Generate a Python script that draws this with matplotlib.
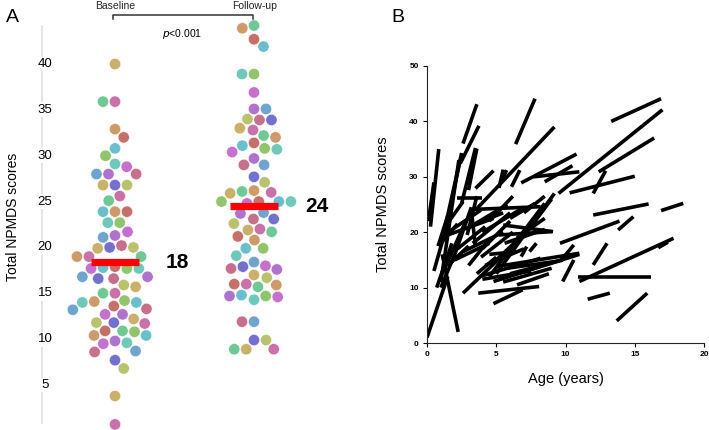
import numpy as np
import matplotlib
matplotlib.use("Agg")
import matplotlib.pyplot as plt

plt.rcParams['font.family'] = ['Liberation Sans', 'DejaVu Sans']

# panel A: NPMDS scores, one dot per patient
baseline = [40.0, 35.9, 35.9, 32.9, 32.0, 30.8, 30.0, 29.1, 28.8, 28.0, 28.0, 28.0,
            26.8, 26.8, 26.8, 25.6, 25.1, 23.9, 23.9, 23.9, 22.7, 22.7, 21.7, 21.3,
            21.1, 20.2, 20.0, 20.0, 19.9, 19.0, 19.0, 19.0, 17.9, 17.8, 17.7, 17.7,
            17.7, 16.8, 16.8, 16.6, 16.6, 15.9, 15.7, 15.0, 15.0, 14.1, 13.6, 14.0,
            14.2, 14.0, 12.7, 12.7, 13.2, 13.3, 11.8, 11.8, 12.2, 11.7, 10.9, 10.4,
            10.9, 10.4, 10.8, 9.6, 9.5, 9.8, 8.7, 8.6, 7.7, 6.8, 3.8, 0.7]
followup = [44.2, 43.9, 42.7, 41.9, 38.9, 38.9, 36.9, 35.1, 35.1, 33.9, 33.9, 34.0,
            33.0, 32.8, 32.2, 32.0, 31.4, 31.1, 30.8, 30.7, 30.4, 29.7, 29.0, 29.0,
            27.7, 27.1, 25.9, 26.0, 26.1, 26.2, 25.0, 25.0, 25.0, 25.0, 24.8, 23.7,
            23.8, 23.1, 23.1, 22.6, 21.9, 22.0, 21.7, 20.8, 21.2, 19.9, 19.9, 19.1,
            18.0, 17.6, 18.4, 17.7, 17.9, 16.7, 17.0, 16.0, 15.7, 15.9, 16.0, 14.8,
            14.7, 14.3, 14.6, 14.7, 11.9, 11.9, 9.9, 9.9, 8.9, 8.9, 8.9]
group_names = ["Baseline", "Follow-up"]
median_pos = [18.4, 24.5]
median_labels = ["18", "24"]
p_text = "<0.001"
yticks_a = [5, 10, 15, 20, 25, 30, 35, 40]

# panel B: each patient as a segment (age, score) at baseline -> follow-up
segments = [
    (13.3, 40.0, 16.9, 44.1), (9.5, 27.0, 17.0, 42.1), (12.4, 30.9, 16.4, 37.0),
    (10.3, 27.1, 15.0, 30.1), (12.0, 27.0, 12.9, 31.1), (6.4, 35.9, 7.8, 44.1),
    (3.5, 24.0, 9.2, 39.0), (6.8, 28.9, 10.8, 34.1), (7.7, 30.0, 11.0, 30.9),
    (8.5, 29.1, 10.5, 32.0), (2.6, 36.0, 3.6, 43.1), (2.4, 32.4, 3.75, 39.2),
    (3.0, 27.6, 3.6, 35.1), (3.5, 27.9, 4.8, 31.1), (0.25, 21.0, 0.85, 35.0),
    (0.1, 22.0, 0.5, 29.0), (1.1, 18.6, 2.5, 34.3), (1.3, 19.8, 2.4, 33.1),
    (2.5, 25.2, 3.5, 35.2), (5.2, 28.0, 5.5, 31.3), (5.4, 29.4, 5.75, 31.2),
    (6.1, 28.2, 6.7, 31.2), (2.2, 26.1, 4.0, 26.1), (3.2, 24.1, 8.2, 24.6),
    (3.2, 24.0, 3.5, 17.4), (1.4, 19.8, 3.9, 24.0), (5.2, 19.5, 9.0, 20.1),
    (4.5, 12.0, 8.5, 25.2), (5.0, 12.5, 9.2, 27.0), (3.7, 9.0, 8.1, 10.2),
    (4.8, 7.1, 6.9, 9.6), (9.6, 18.0, 13.9, 22.0), (13.8, 20.4, 14.9, 22.8),
    (11.0, 11.1, 17.8, 18.9), (10.9, 12.0, 16.2, 12.0), (12.0, 14.1, 13.0, 18.0),
    (9.8, 11.1, 10.6, 15.0), (11.6, 7.9, 13.2, 9.0), (13.7, 4.0, 15.9, 9.0),
    (16.9, 23.9, 18.5, 25.2), (12.0, 23.1, 16.0, 25.1), (16.7, 17.2, 17.4, 18.2),
    (5.0, 13.8, 11.0, 16.2), (7.4, 16.5, 7.9, 18.0), (6.8, 15.6, 7.2, 17.4),
    (9.6, 14.7, 10.6, 17.7), (5.5, 21.3, 9.1, 20.1), (3.8, 12.0, 8.2, 15.3),
    (4.8, 11.1, 11.0, 16.0), (2.6, 9.0, 5.5, 15.9), (0.0, 1.0, 1.5, 12.0),
    (2.25, 2.0, 1.1, 16.0), (0.7, 10.0, 1.8, 18.0), (0.5, 13.0, 1.3, 20.0),
    (1.0, 10.0, 2.0, 16.0), (1.2, 13.0, 2.8, 22.0), (1.5, 14.0, 3.0, 17.5),
    (2.0, 15.0, 4.5, 18.0), (2.6, 16.5, 5.5, 20.0), (1.0, 18.0, 2.2, 21.5),
    (1.5, 19.5, 4.8, 22.5), (2.8, 20.5, 5.8, 25.0), (3.9, 15.5, 6.2, 20.0),
    (4.2, 14.0, 7.0, 17.0), (5.5, 11.0, 9.0, 13.5), (6.0, 12.5, 9.8, 15.0),
    (7.5, 21.0, 9.0, 26.0), (6.0, 22.5, 7.8, 25.2), (4.0, 17.0, 6.0, 22.0),
    (4.5, 22.0, 6.2, 26.5), (3.0, 14.0, 4.6, 19.0), (3.6, 12.5, 5.0, 15.5),
    (5.6, 18.0, 8.5, 20.5), (4.5, 16.0, 6.5, 16.5), (1.0, 11.0, 2.3, 33.0),
    (0.8, 17.5, 1.5, 23.0), (1.8, 14.5, 3.2, 24.5), (2.2, 17.0, 4.2, 21.0),
    (3.3, 18.0, 6.0, 23.5), (4.0, 20.0, 7.0, 24.5), (5.0, 15.0, 8.0, 22.0),
    (5.8, 13.5, 9.5, 14.8), (4.0, 11.5, 7.5, 13.0), (6.5, 10.5, 8.8, 12.5),
    (3.5, 21.5, 5.5, 23.5), (6.5, 19.0, 8.5, 22.5), (2.9, 19.5, 3.6, 26.5),
    (7.0, 23.5, 8.5, 26.5), (1.6, 22.0, 2.6, 25.5),
]

dot_colors = ['#c4a95a', '#c8905a', '#84bf5c', '#a864c8', '#6462c8', '#c462a0',
              '#c0605a', '#5ec4b4', '#5e9ac8', '#b4bc5e', '#5ec48a', '#5ab8c8',
              '#c060c8', '#c06080']


def swarm(vals_px, d):
    """x offsets (pixels) so that no two dots of diameter d overlap"""
    order = np.argsort(-np.asarray(vals_px))
    xs = np.zeros(len(vals_px))
    placed = []
    flip = 1
    for i in order:
        y = vals_px[i]
        near = [(px, py) for px, py in placed if abs(py - y) < d]
        cands = [0.0]
        for px, py in near:
            dx = np.sqrt(d * d - (py - y) ** 2)
            cands += [px + dx, px - dx]
        cands.sort(key=lambda c: (round(abs(c), 3), flip * c))
        for c in cands:
            if all((c - px) ** 2 + (y - py) ** 2 >= d * d - 1e-6 for px, py in near):
                xs[i] = c
                break
        if xs[i] != 0:
            flip = -flip
        placed.append((xs[i], y))
    return xs


fig = plt.figure(figsize=(7.09, 4.30), dpi=100)

# ---- panel A ----
W, H = 709, 430
ax1 = fig.add_axes([0, 0, 360 / W, (430 - 20) / H])
ax1.set_xlim(-115 / 139, 245 / 139)
ax1.set_ylim(0.09, 44.8)
ax1.axis('off')

t = ax1.transData
ox, oy = t.transform((0, 0))
sx = t.transform((1, 0))[0] - ox
sy = t.transform((0, 1))[1] - oy

k = 0
for g, vals in enumerate([baseline, followup]):
    vals = np.array(vals)
    offs = swarm(vals * sy, 12.0) / sx
    cols = [dot_colors[(k + j) * 5 % len(dot_colors)] for j in range(len(vals))]
    k += len(vals)
    ax1.scatter(g + offs, vals, s=66, c=cols, alpha=0.9, edgecolors='white',
                linewidths=0.4, zorder=3, clip_on=False)
    ax1.plot([g - 0.17, g + 0.17], [median_pos[g], median_pos[g]], color='#ff0000',
             lw=5.2, solid_capstyle='butt', zorder=4)
    ax1.text(g + 0.45, median_pos[g], median_labels[g], fontsize=15, fontweight='bold',
             ha='center', va='center')

# faint y axis with the tick labels on top of it
x_axis = -73 / 139
ax1.plot([x_axis, x_axis], [0.9, 44.2], color='#e0e0e0', lw=1.2, zorder=1)
for v in yticks_a:
    ax1.text(x_axis + 3 / 139, v, str(v), fontsize=9.5, ha='center', va='center',
             bbox=dict(facecolor='white', edgecolor='none', pad=1), zorder=2)
fig.text(13 / W, 1 - 217 / H, "Total NPMDS scores", rotation=90, fontsize=10,
         ha='center', va='center')

fig.text(12 / W, 1 - 17 / H, "A", fontsize=14, ha='center', va='center')
for g, name in enumerate(group_names):
    fig.text((115 + g * 140) / W, 1 - 6 / H, name, fontsize=7.5, ha='center',
             va='center', color='#222222')
fig.add_artist(plt.Line2D([113 / W, 113 / W, 253 / W, 253 / W],
                          [1 - 19 / H, 1 - 15 / H, 1 - 15 / H, 1 - 19 / H],
                          color='#333333', lw=1.1))
fig.text(182 / W, 1 - 34 / H, r"$\it{p}$" + p_text, fontsize=7.5, ha='center',
         va='center')

# ---- panel B ----
ax2 = fig.add_axes([427 / W, 1 - 343 / H, 277 / W, 277 / H])
for x1, y1, x2, y2 in segments:
    ax2.plot([x1, x2], [y1, y2], color='black', lw=2.6, solid_capstyle='butt')
ax2.set_xlim(0, 20)
ax2.set_ylim(0, 50)
ax2.set_xticks([0, 5, 10, 15, 20])
ax2.set_yticks([0, 10, 20, 30, 40, 50])
for s in ['top', 'right']:
    ax2.spines[s].set_visible(False)
for s in ['left', 'bottom']:
    ax2.spines[s].set_linewidth(0.8)
    ax2.spines[s].set_color('#222222')
ax2.tick_params(length=3, width=0.8, pad=3, labelsize=6)
for lab in ax2.get_xticklabels() + ax2.get_yticklabels():
    lab.set_fontweight('bold')
ax2.set_xlabel("Age (years)", fontsize=10.5, labelpad=10)
ax2.set_ylabel("Total NPMDS scores", fontsize=10.5, labelpad=14)
fig.text(398 / W, 1 - 17 / H, "B", fontsize=14, ha='center', va='center')

fig.savefig("out.png", dpi=100)
